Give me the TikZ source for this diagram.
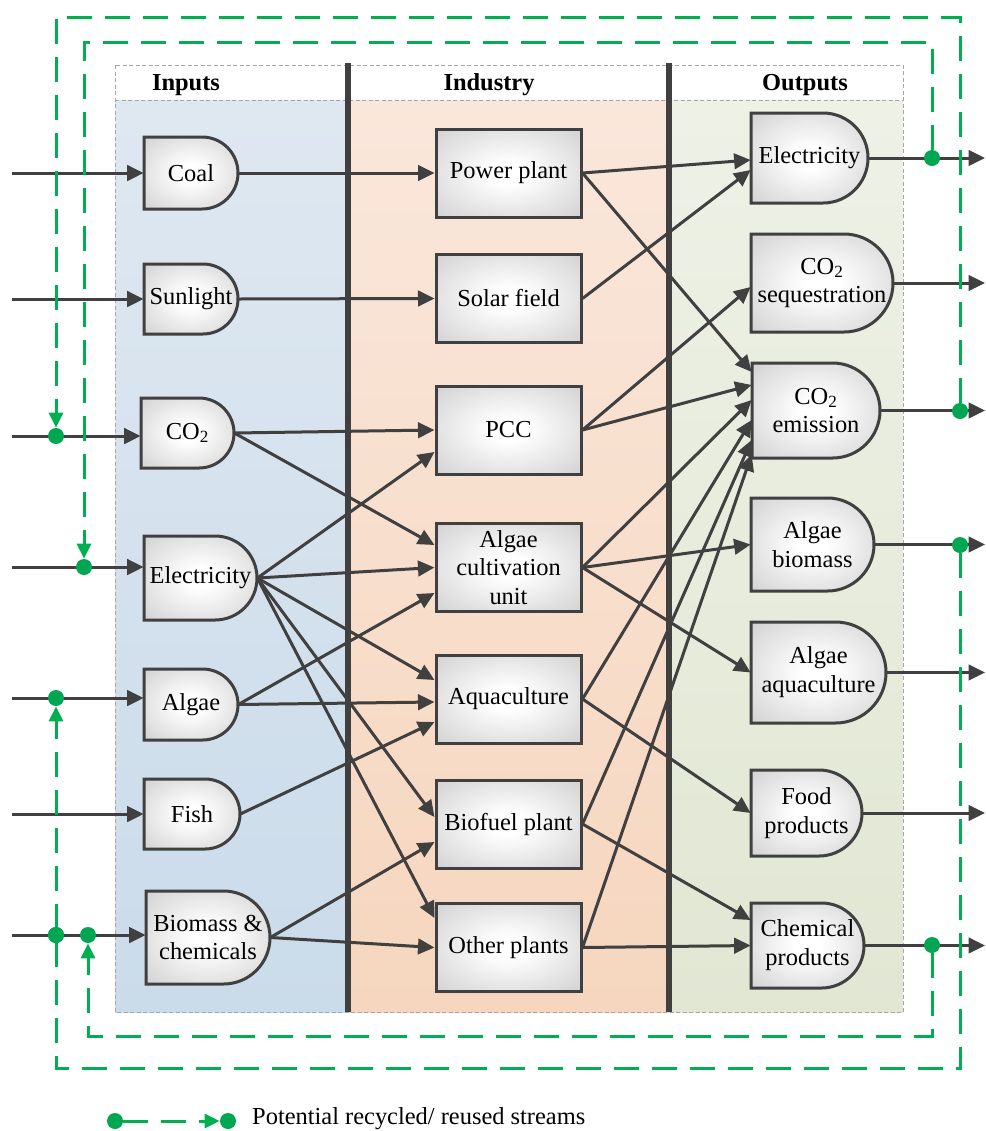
\documentclass[tikz,border=0pt]{standalone}
\usepackage{fontspec}
\setmainfont{Liberation Serif}
\usetikzlibrary{arrows.meta,calc}

\definecolor{linegray}{RGB}{64,64,64}
\definecolor{edgegray}{RGB}{206,206,206}
\definecolor{cornergray}{RGB}{186,186,186}
\definecolor{recgreen}{RGB}{0,176,80}
\definecolor{dotgreen}{RGB}{0,166,81}
\definecolor{intop}{RGB}{223,232,241}
\definecolor{inbot}{RGB}{202,219,234}
\definecolor{indtop}{RGB}{250,231,219}
\definecolor{indbot}{RGB}{246,214,190}
\definecolor{outtop}{RGB}{238,241,230}
\definecolor{outbot}{RGB}{225,231,211}

\pgfdeclareradialshading{boxshade}{\pgfpoint{0bp}{0bp}}{%
  color(0bp)=(white); color(6bp)=(white); color(38bp)=(edgegray); color(60bp)=(cornergray)}

\newcommand{\bodyfont}{\fontsize{13.9}{16.4}\selectfont}
% D-shaped box: name, x, y, width, height, text
\newcommand{\dnode}[6]{%
  \shade[dfill] (#2-#4/2,#3-#5/2) -- (#2+#4/2-#5/2,#3-#5/2)
    arc[start angle=90,end angle=-90,radius=#5*0.1mm] -- (#2-#4/2,#3+#5/2) -- cycle;
  \node[dtext,minimum width=#4*0.2mm,minimum height=#5*0.2mm] (#1) at (#2,#3) {#6};}

\begin{document}
\begin{tikzpicture}[x=0.2mm,y=-0.2mm,>={Triangle[length=3.3mm,width=3.1mm]},font=\bodyfont,
  flow/.style={draw=linegray,line width=0.6mm,->},
  recyc/.style={draw=recgreen,line width=0.6mm,dash pattern=on 5mm off 2.6mm,-{Triangle[length=3mm,width=2.8mm]}},
  dfill/.style={draw=linegray,line width=0.6mm,shading=boxshade},
  dtext/.style={inner sep=0pt,align=center},
  plant/.style={dfill,minimum width=29mm,minimum height=17.6mm,inner sep=0pt,align=center},
  dot/.style={circle,fill=dotgreen,minimum size=3.2mm,inner sep=0pt},
  hdr/.style={font=\bodyfont\bfseries},
  frame/.style={draw=gray!70,line width=0.2mm,dash pattern=on 0.8mm off 0.5mm},
  divider/.style={draw=linegray,line width=1.1mm}]
\useasboundingbox (0,0) rectangle (985,1131);

% columns
\fill[top color=intop,bottom color=inbot] (115,100) rectangle (348,1012);
\fill[top color=indtop,bottom color=indbot] (348,100) rectangle (669,1012);
\fill[top color=outtop,bottom color=outbot] (669,100) rectangle (903,1012);
\draw[frame] (115,65) rectangle (903,1012);
\draw[frame] (115,100) -- (903,100);
\draw[divider] (348,63) -- (348,1012);
\draw[divider] (669,63) -- (669,1012);
\node[hdr] (hin) at (186,85) {Inputs};
\node[hdr] (hind) at (489,85) {Industry};
\node[hdr] (hout) at (805,85) {Outputs};

% inputs
\dnode{coal}{191}{173}{94}{72}{Coal}
\dnode{sun}{191}{299}{94}{70}{Sunlight}
\dnode{co2}{187.5}{433}{93}{70}{CO\textsubscript{2}}
\dnode{elec}{200.5}{578}{113}{84}{Electricity}
\dnode{algae}{191}{704.5}{94}{71}{Algae}
\dnode{fish}{192}{814}{96}{70}{Fish}
\dnode{bio}{208}{937.5}{124}{93}{Biomass \&\\chemicals}

% industry
\node[plant] (pp) at (508.5,173) {Power plant};
\node[plant] (solar) at (508.5,298.5) {Solar field};
\node[plant] (pcc) at (508.5,430) {PCC};
\node[plant] (acu) at (508.5,567.5) {Algae\\cultivation\\unit};
\node[plant] (aqua) at (508.5,699) {Aquaculture};
\node[plant] (biof) at (508.5,824) {Biofuel plant};
\node[plant] (other) at (508.5,947.5) {Other plants};

% outputs
\dnode{eout}{809.5}{158}{117}{90}{Electricity}
\dnode{seq}{822}{283}{142}{98}{CO\textsubscript{2}\\sequestration}
\dnode{emis}{816}{410.5}{128}{95}{CO\textsubscript{2}\\emission}
\dnode{abio}{812.5}{544.5}{123}{93}{Algae\\biomass}
\dnode{aaq}{818.5}{672.5}{135}{101}{Algae\\aquaculture}
\dnode{food}{806.5}{813}{111}{86}{Food\\products}
\dnode{chem}{807.5}{945.5}{113}{85}{Chemical\\products}

% inputs to industry
\draw[flow] (coal.east) -- (pp.west);
\draw[flow] (sun.east) -- (solar.west);
\draw[flow] (co2.east) -- (pcc.west);
\draw[flow] (co2.east) -- ($(acu.west)+(0,-22.5)$);
\draw[flow] (elec.east) -- ($(pcc.west)+(0,22)$);
\draw[flow] (elec.east) -- (acu.west);
\draw[flow] (elec.east) -- ($(aqua.west)+(0,-19)$);
\draw[flow] (elec.east) -- ($(biof.west)+(0,-7)$);
\draw[flow] (elec.east) -- ($(other.west)+(0,-29.5)$);
\draw[flow] (algae.east) -- ($(acu.west)+(0,25.5)$);
\draw[flow] (algae.east) -- ($(aqua.west)+(0,3)$);
\draw[flow] (fish.east) -- ($(aqua.west)+(0,23)$);
\draw[flow] (bio.east) -- ($(biof.west)+(0,18)$);
\draw[flow] (bio.east) -- (other.west);

% industry to outputs
\draw[flow] (pp.east) -- ($(eout.west)+(0,2)$);
\draw[flow] (pp.east) -- ($(emis.west)+(0,-38.5)$);
\draw[flow] (solar.east) -- ($(eout.west)+(0,12)$);
\draw[flow] (pcc.east) -- ($(seq.west)+(0,4)$);
\draw[flow] (pcc.east) -- ($(emis.west)+(0,-25.5)$);
\draw[flow] (acu.east) -- ($(emis.west)+(0,-10.5)$);
\draw[flow] (acu.east) -- (abio.west);
\draw[flow] (acu.east) -- (aaq.west);
\draw[flow] (aqua.east) -- ($(emis.west)+(0,9.5)$);
\draw[flow] (aqua.east) -- (food.west);
\draw[flow] (biof.east) -- ($(emis.west)+(0,29.5)$);
\draw[flow] (biof.east) -- ($(chem.west)+(0,-25.5)$);
\draw[flow] (other.east) -- ($(emis.west)+(0,44)$);
\draw[flow] (other.east) -- (chem.west);

% streams in and out
\foreach \n/\y in {coal/173,sun/299,co2/436,elec/567,algae/698,fish/814,bio/935} {
  \coordinate (src-\n) at (12,\y);
  \draw[flow] (src-\n) -- (src-\n -| \n.west);
}
\coordinate (snk) at (985,0);
\foreach \n in {eout,seq,emis,abio,aaq,food,chem}
  \draw[flow] (\n.east) -- (\n.east -| snk);

% recycle loops
\coordinate (inNE) at (932,42);
\coordinate (inNW) at (84,42);
\coordinate (inSE) at (932,1036);
\coordinate (inSW) at (88,1036);
\coordinate (outNE) at (960,17);
\coordinate (outNW) at (56,17);
\coordinate (outSE) at (960,1068);
\coordinate (outSW) at (56,1068);
\node[dot] (eo) at (932,158) {};
\node[dot] (emo) at (960,411) {};
\node[dot] (abo) at (960,545) {};
\node[dot] (cho) at (932,945) {};
\node[dot] (ci) at (56,436) {};
\node[dot] (ei) at (84,567) {};
\node[dot] (ai) at (56,698) {};
\node[dot] (bi1) at (56,935) {};
\node[dot] (bi2) at (88,935) {};
\draw[recyc] (eo) -- (inNE) -- (inNW) -- (ei);
\draw[recyc] (emo) -- (outNE) -- (outNW) -- (ci);
\draw[recyc] (abo) -- (outSE) -- (outSW) -- (ai);
\draw[recyc] (cho) -- (inSE) -- (inSW) -- (bi2);
\node[dot] at (bi1) {};

% legend
\node[dot] (lg1) at (115,1121) {};
\node[dot] (lg2) at (228,1121) {};
\draw[recyc] (lg1) -- (lg2);
\node[anchor=west] (lgt) at (246,1119) {Potential recycled/ reused streams};
\end{tikzpicture}
\end{document}
